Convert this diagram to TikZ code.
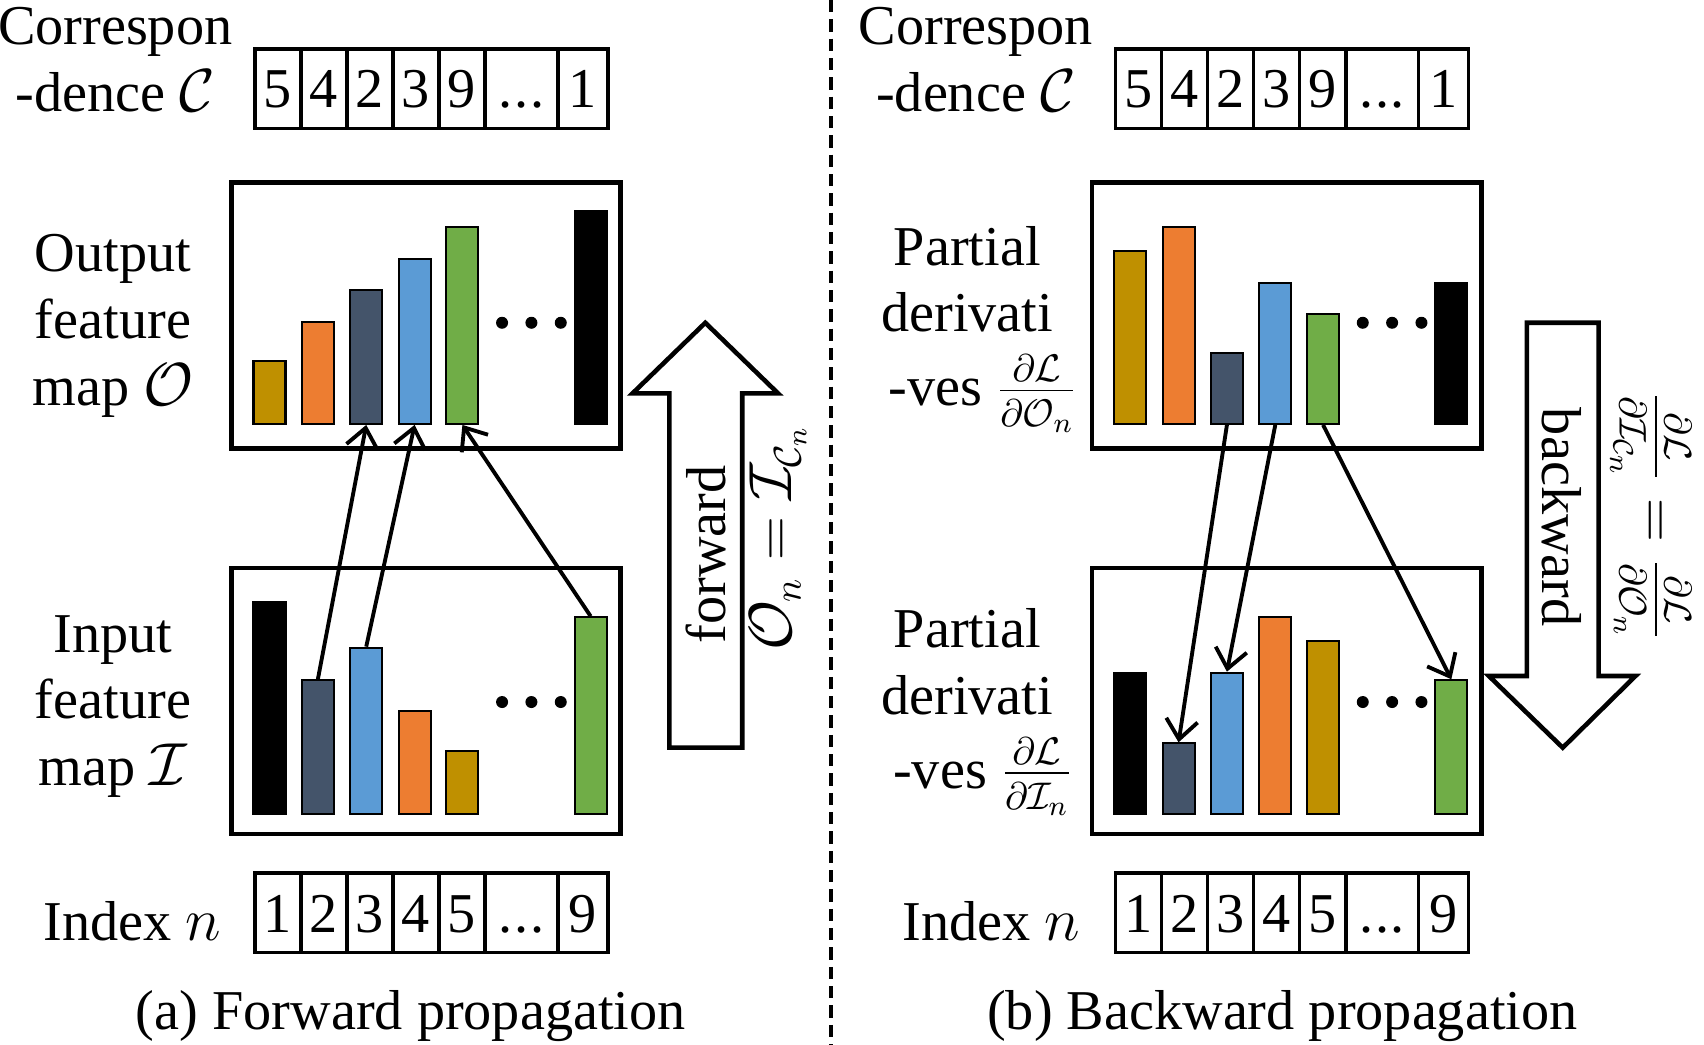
\documentclass[tikz,border=0pt]{standalone}
\usepackage{fontspec}
\setmainfont{Liberation Serif}
\usetikzlibrary{positioning,arrows.meta}

\definecolor{barGold}{HTML}{BF9000}
\definecolor{barOrange}{HTML}{ED7D31}
\definecolor{barSlate}{HTML}{44546A}
\definecolor{barBlue}{HTML}{5B9BD5}
\definecolor{barGreen}{HTML}{70AD47}

\def\pxu{0.010867cm}

\tikzset{
	mapframe/.style={draw, line width=1.3pt, inner sep=0pt, minimum width=3.89cm, minimum height=2.66cm},
	cell/.style={draw, line width=1pt, inner sep=0pt, minimum width=0.46cm, minimum height=0.795cm, text height=11pt, text depth=0pt},
	featbar/.style={draw, line width=0.6pt, inner sep=0pt, minimum width=0.32cm, anchor=south},
	conn/.style={line width=1.1pt, -{Straight Barb[length=5.5pt,width=9pt]}},
	blockarrow/.style={draw, line width=1.3pt, line join=miter},
	maplabel/.style={align=center},
}

\begin{document}
\begin{tikzpicture}[x=\pxu, y=-\pxu, font=\fontsize{16}{19}\selectfont]
	
	\useasboundingbox (0,0) rectangle (1568,961);
	
	% (a) forward
	\node[maplabel] (corrA) at (106,55) {Correspon\\-dence $\mathcal{C}$};
	\node[cell, anchor=west] (ca1) at (233,81.5) {5};
	\node[cell, right=-1pt of ca1] (ca2) {4};
	\node[cell, right=-1pt of ca2] (ca3) {2};
	\node[cell, right=-1pt of ca3] (ca4) {3};
	\node[cell, right=-1pt of ca4] (ca5) {9};
	\node[cell, right=-1pt of ca5, minimum width=0.728cm] (ca6) {.\kern0.5pt.\kern0.5pt.};
	\node[cell, right=-1pt of ca6, minimum width=0.5cm] (ca7) {1};
	
	\node[mapframe] (outA) at (392,290.5) {};
	\node[maplabel] (outAlab) at (104,300) {Output\\feature\\map $\mathcal{O}$};
	\node[featbar, fill=barGold, minimum height=58*\pxu] (o1) at (248,391) {};
	\node[featbar, fill=barOrange, minimum height=94*\pxu] (o2) at (292.5,391) {};
	\node[featbar, fill=barSlate, minimum height=123*\pxu] (o3) at (337,391) {};
	\node[featbar, fill=barBlue, minimum height=152*\pxu] (o4) at (381.5,391) {};
	\node[featbar, fill=barGreen, minimum height=181*\pxu] (o5) at (425.5,391) {};
	\node[featbar, fill=black, minimum height=196*\pxu] (o6) at (543.5,391) {};
	\fill (462,297) circle (0.06cm) (489,297) circle (0.06cm) (516,297) circle (0.06cm);
	
	\node[mapframe] (inA) at (392,645) {};
	\node[maplabel] (inAlab) at (104,650) {Input\\feature\\map $\mathcal{I}$};
	\node[featbar, fill=black, minimum height=195*\pxu] (i1) at (248,750) {};
	\node[featbar, fill=barSlate, minimum height=123*\pxu] (i2) at (292.5,750) {};
	\node[featbar, fill=barBlue, minimum height=153*\pxu] (i3) at (337,750) {};
	\node[featbar, fill=barOrange, minimum height=95*\pxu] (i4) at (381.5,750) {};
	\node[featbar, fill=barGold, minimum height=58*\pxu] (i5) at (425.5,750) {};
	\node[featbar, fill=barGreen, minimum height=181*\pxu] (i6) at (543.5,750) {};
	\fill (462,646) circle (0.06cm) (489,646) circle (0.06cm) (516,646) circle (0.06cm);
	
	\draw[conn] (i2.north) -- (o3.south);
	\draw[conn] (i3.north) -- (o4.south);
	\draw[conn] (i6.north) -- (o5.south);
	
	\draw[blockarrow] (616,688) -- (616,362) -- (582,362) -- (649,297) -- (716,362) -- (683,362) -- (683,688) -- cycle;
	\node[rotate=90] (fwdtxt) at (650,510) {forward};
	\node[rotate=90] (fwdeq) at (716,495) {$\mathcal{O}_n = \mathcal{I}_{\mathcal{C}_n}$};
	
	\node (idxA) at (122,848) {Index $n$};
	\node[cell, anchor=west] (na1) at (233,840) {1};
	\node[cell, right=-1pt of na1] (na2) {2};
	\node[cell, right=-1pt of na2] (na3) {3};
	\node[cell, right=-1pt of na3] (na4) {4};
	\node[cell, right=-1pt of na4] (na5) {5};
	\node[cell, right=-1pt of na5, minimum width=0.728cm] (na6) {.\kern0.5pt.\kern0.5pt.};
	\node[cell, right=-1pt of na6, minimum width=0.5cm] (na7) {9};
	
	\node (capA) at (378,935) {(a) Forward propagation};
	
	\draw[line width=1.2pt, dash pattern=on 3.5pt off 2pt] (765,0) -- (765,961);
	
	% (b) backward
	\node[maplabel] (corrB) at (898,55) {Correspon\\-dence $\mathcal{C}$};
	\node[cell, anchor=west] (cb1) at (1025,81.5) {5};
	\node[cell, right=-1pt of cb1] (cb2) {4};
	\node[cell, right=-1pt of cb2] (cb3) {2};
	\node[cell, right=-1pt of cb3] (cb4) {3};
	\node[cell, right=-1pt of cb4] (cb5) {9};
	\node[cell, right=-1pt of cb5, minimum width=0.728cm] (cb6) {.\kern0.5pt.\kern0.5pt.};
	\node[cell, right=-1pt of cb6, minimum width=0.5cm] (cb7) {1};
	
	\node[mapframe] (outB) at (1184,290.5) {};
	\node[maplabel] (outBlab) at (890,303) {Partial\\derivati\\[2pt]\hspace*{9pt}-ves $\frac{\partial\mathcal{L}}{\partial\mathcal{O}_n}$};
	\node[featbar, fill=barGold, minimum height=159*\pxu] (d1) at (1040,391) {};
	\node[featbar, fill=barOrange, minimum height=181*\pxu] (d2) at (1084.5,391) {};
	\node[featbar, fill=barSlate, minimum height=65*\pxu] (d3) at (1129,391) {};
	\node[featbar, fill=barBlue, minimum height=130*\pxu] (d4) at (1173.5,391) {};
	\node[featbar, fill=barGreen, minimum height=101*\pxu] (d5) at (1217.5,391) {};
	\node[featbar, fill=black, minimum height=130*\pxu] (d6) at (1335.5,391) {};
	\fill (1254,297) circle (0.06cm) (1281,297) circle (0.06cm) (1308,297) circle (0.06cm);
	
	\node[mapframe] (inB) at (1184,645) {};
	\node[maplabel] (inBlab) at (890,655) {Partial\\derivati\\[2pt]\hspace*{9pt}-ves $\frac{\partial\mathcal{L}}{\partial\mathcal{I}_n}$};
	\node[featbar, fill=black, minimum height=130*\pxu] (e1) at (1040,750) {};
	\node[featbar, fill=barSlate, minimum height=65*\pxu] (e2) at (1084.5,750) {};
	\node[featbar, fill=barBlue, minimum height=130*\pxu] (e3) at (1129,750) {};
	\node[featbar, fill=barOrange, minimum height=181*\pxu] (e4) at (1173.5,750) {};
	\node[featbar, fill=barGold, minimum height=159*\pxu] (e5) at (1217.5,750) {};
	\node[featbar, fill=barGreen, minimum height=123*\pxu] (e6) at (1335.5,750) {};
	\fill (1254,646) circle (0.06cm) (1281,646) circle (0.06cm) (1308,646) circle (0.06cm);
	
	\draw[conn] (d3.south) -- (e2.north);
	\draw[conn] (d4.south) -- (e3.north);
	\draw[conn] (d5.south) -- (e6.north);
	
	\draw[blockarrow] (1405,297) -- (1471,297) -- (1471,622) -- (1505,622) -- (1438,688) -- (1370,622) -- (1405,622) -- cycle;
	\node[rotate=-90] (bwdtxt) at (1437,476) {backward};
	\node[rotate=-90] (bwdeq) at (1519,475) {$\frac{\partial\mathcal{L}}{\partial\mathcal{I}_{\mathcal{C}_n}} = \frac{\partial\mathcal{L}}{\partial\mathcal{O}_n}$};
	
	\node (idxB) at (912,848) {Index $n$};
	\node[cell, anchor=west] (nb1) at (1025,840) {1};
	\node[cell, right=-1pt of nb1] (nb2) {2};
	\node[cell, right=-1pt of nb2] (nb3) {3};
	\node[cell, right=-1pt of nb3] (nb4) {4};
	\node[cell, right=-1pt of nb4] (nb5) {5};
	\node[cell, right=-1pt of nb5, minimum width=0.728cm] (nb6) {.\kern0.5pt.\kern0.5pt.};
	\node[cell, right=-1pt of nb6, minimum width=0.5cm] (nb7) {9};
	
	\node (capB) at (1180,935) {(b) Backward propagation};
\end{tikzpicture}
\end{document}
